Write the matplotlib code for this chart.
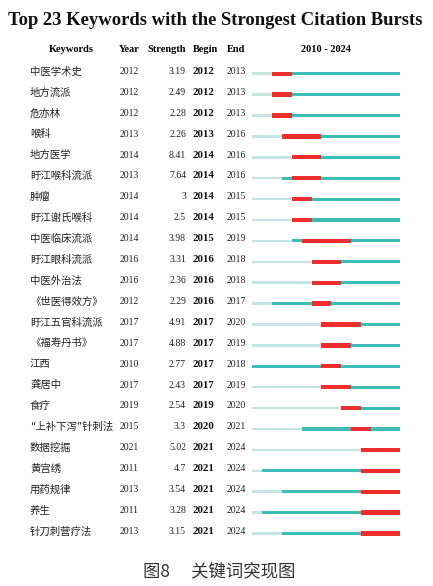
import matplotlib
matplotlib.use("Agg")
import matplotlib.pyplot as plt

# burst table
keywords = ["中医学术史", "地方流派", "危亦林", "喉科", "地方医学", "盱江喉科流派", "肿瘤",
            "盱江谢氏喉科", "中医临床流派", "盱江眼科流派", "中医外治法", "《世医得效方》",
            "盱江五官科流派", "《福寿丹书》", "江西", "龚居中", "食疗", "“上补下泻”针刺法",
            "数据挖掘", "黄宫绣", "用药规律", "养生", "针刀刺营疗法"]
years = [2012, 2012, 2012, 2013, 2014, 2013, 2014, 2014, 2014, 2016, 2016, 2012,
         2017, 2017, 2010, 2017, 2019, 2015, 2021, 2011, 2013, 2011, 2013]
strengths = ["3.19", "2.49", "2.28", "2.26", "8.41", "7.64", "3", "2.5", "3.98", "3.31", "2.36", "2.29",
             "4.91", "4.88", "2.77", "2.43", "2.54", "3.3", "5.02", "4.7", "3.54", "3.28", "3.15"]
begins = [2012, 2012, 2012, 2013, 2014, 2014, 2014, 2014, 2015, 2016, 2016, 2016,
          2017, 2017, 2017, 2017, 2019, 2020, 2021, 2021, 2021, 2021, 2021]
ends = [2013, 2013, 2013, 2016, 2016, 2016, 2015, 2015, 2019, 2018, 2018, 2017,
        2020, 2019, 2018, 2019, 2020, 2021, 2024, 2024, 2024, 2024, 2024]
start_year, end_year = 2010, 2024

W, H = 433, 586
serif = "Liberation Serif"
cjk = ["DejaVu Sans", "Noto Sans CJK SC"]   # narrow quotes from DejaVu, ideographs from Noto
light = "#c3e5e5"
teal = "#3dbdb5"
red = "#ee2d2d"

fig = plt.figure(figsize=(W / 100, H / 100), dpi=100)

# text layer in pixel coordinates
tax = fig.add_axes([0, 0, 1, 1])
tax.set_xlim(0, W)
tax.set_ylim(H, 0)
tax.axis("off")

tax.text(215, 25, "Top 23 Keywords with the Strongest Citation Bursts", family=serif,
         fontweight="bold", fontsize=13.4, ha="center", va="baseline", color="#111111")

hy = 52.5
tax.text(71.3, hy, "Keywords", family=serif, fontweight="bold", fontsize=7.5, ha="center", va="baseline")
tax.text(119.3, hy, "Year", family=serif, fontweight="bold", fontsize=7.5, ha="left", va="baseline")
tax.text(186, hy, "Strength", family=serif, fontweight="bold", fontsize=7.5, ha="right", va="baseline")
tax.text(193.3, hy, "Begin", family=serif, fontweight="bold", fontsize=7.5, ha="left", va="baseline")
tax.text(227.3, hy, "End", family=serif, fontweight="bold", fontsize=7.5, ha="left", va="baseline")
tax.text(326.3, hy, f"{start_year} - {end_year}", family=serif, fontweight="bold", fontsize=7.5,
         ha="center", va="baseline")

row0, step = 74, 20.9
for i, kw in enumerate(keywords):
    y = row0 + i * step
    tax.text(30, y + 0.6, kw, family=cjk, fontsize=7.5, ha="left", va="baseline", color="#222222")
    tax.text(119.3, y, str(years[i]), family=serif, fontsize=7, ha="left", va="baseline", color="#222222")
    tax.text(186, y, strengths[i], family=serif, fontsize=7, ha="right", va="baseline", color="#222222")
    tax.text(192.7, y, str(begins[i]), family=serif, fontweight="bold", fontsize=7.8,
             ha="left", va="baseline", color="#111111")
    tax.text(226.7, y, str(ends[i]), family=serif, fontsize=7, ha="left", va="baseline", color="#222222")

tax.text(219.5, 576, "图8\u3000 关键词突现图", family=["Noto Sans CJK SC", "DejaVu Sans"],
         fontsize=12.5, ha="center", va="baseline", color="#333333")

# burst bars
bar_top = 73.7 - step / 2
bar_bot = 73.7 + 22 * step + step / 2
x0, x1 = 252.3, 400.5
bax = fig.add_axes([x0 / W, 1 - bar_bot / H, (x1 - x0) / W, (bar_bot - bar_top) / H])
bax.set_xlim(start_year, end_year + 1)
bax.set_ylim(len(keywords) - 0.5, -0.5)
bax.axis("off")

rows = list(range(len(keywords)))
bax.barh(rows, [y - start_year for y in years], left=start_year, height=0.12, color=light)
bax.barh(rows, [end_year + 1 - y for y in years], left=years, height=0.145, color=teal)
bax.barh(rows, [e + 1 - b for b, e in zip(begins, ends)], left=begins, height=0.21, color=red)

fig.savefig("out.png", dpi=100)
